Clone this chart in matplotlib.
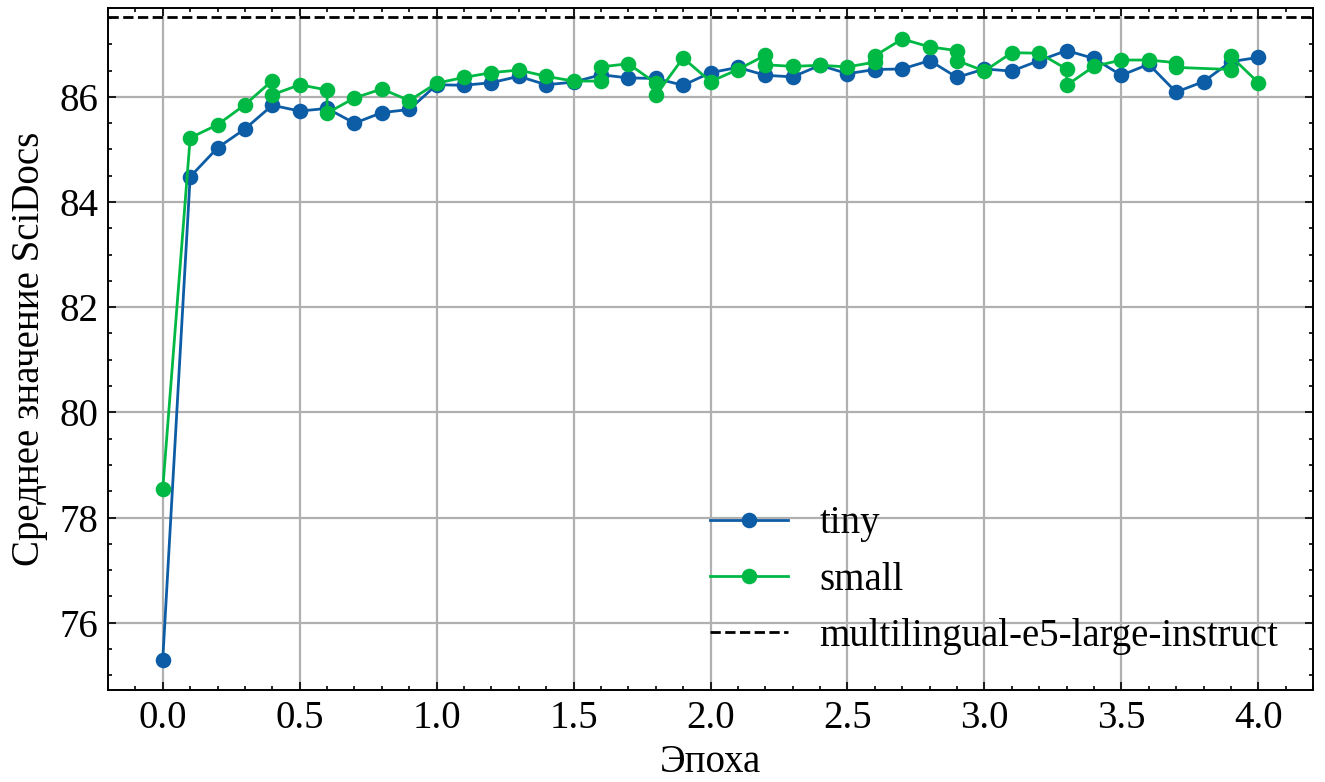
import matplotlib
matplotlib.use("Agg")

import matplotlib.pyplot as plt
from matplotlib.ticker import AutoMinorLocator

# ── Data ────────────────────────────────────────────────────────────
tiny_epoch = [0.0, 0.1, 0.2, 0.3, 0.4, 0.5, 0.6, 0.7, 0.8, 0.9,
              1.0, 1.1, 1.2, 1.3, 1.4, 1.5, 1.6, 1.7, 1.8, 1.9,
              2.0, 2.1, 2.2, 2.3, 2.4, 2.5, 2.6, 2.7, 2.8, 2.9,
              3.0, 3.1, 3.2, 3.3, 3.4, 3.5, 3.6, 3.7, 3.8, 3.9, 4.0]
tiny_score = [75.30, 84.48, 85.03, 85.39, 85.84, 85.73, 85.78, 85.50, 85.70, 85.76,
              86.23, 86.22, 86.27, 86.39, 86.23, 86.28, 86.42, 86.36, 86.35, 86.22,
              86.46, 86.56, 86.41, 86.38, 86.60, 86.44, 86.52, 86.53, 86.69, 86.37,
              86.53, 86.49, 86.69, 86.88, 86.73, 86.41, 86.62, 86.09, 86.29, 86.67, 86.75]

# some epochs were logged twice for "small"
small_epoch = [0.0, 0.1, 0.2, 0.3, 0.4, 0.4, 0.5, 0.6, 0.6, 0.7, 0.8, 0.9,
               1.0, 1.1, 1.2, 1.3, 1.4, 1.5, 1.6, 1.6, 1.7, 1.8, 1.8, 1.9,
               2.0, 2.1, 2.2, 2.2, 2.3, 2.4, 2.5, 2.6, 2.6, 2.7, 2.8, 2.9, 2.9,
               3.0, 3.1, 3.2, 3.3, 3.3, 3.4, 3.5, 3.6, 3.7, 3.7, 3.9, 3.9, 4.0]
small_score = [78.55, 85.22, 85.47, 85.85, 86.31, 86.04, 86.23, 86.13, 85.69, 85.98, 86.15, 85.93,
               86.26, 86.37, 86.46, 86.51, 86.39, 86.30, 86.30, 86.57, 86.63, 86.26, 86.03, 86.74,
               86.29, 86.52, 86.79, 86.61, 86.58, 86.60, 86.57, 86.66, 86.78, 87.10, 86.95, 86.88, 86.69,
               86.49, 86.84, 86.83, 86.53, 86.22, 86.58, 86.70, 86.70, 86.65, 86.56, 86.52, 86.77, 86.27]

baseline = 87.52
baseline_name = "multilingual-e5-large-instruct"

# ── Style (SciencePlots-like) ───────────────────────────────────────
plt.rcParams.update({
    "font.family": ["Liberation Serif", "DejaVu Serif"],
    "font.size": 14,
    "mathtext.fontset": "stix",
    "axes.linewidth": 0.7,
    "xtick.direction": "in",
    "ytick.direction": "in",
    "xtick.top": True,
    "ytick.right": True,
    "xtick.major.size": 3,
    "ytick.major.size": 3,
    "xtick.minor.size": 1.5,
    "ytick.minor.size": 1.5,
    "xtick.major.width": 0.6,
    "ytick.major.width": 0.6,
    "xtick.minor.width": 0.6,
    "ytick.minor.width": 0.6,
    "xtick.minor.visible": True,
    "ytick.minor.visible": True,
})

fig, ax = plt.subplots(figsize=(6.625, 3.91), dpi=200)
fig.subplots_adjust(left=0.0815, right=0.991, bottom=0.1176, top=0.9898)

ax.plot(tiny_epoch, tiny_score, color="#0C5DA5", marker="o", markersize=4.6,
        linewidth=1.0, label="tiny")
ax.plot(small_epoch, small_score, color="#00B945", marker="o", markersize=4.6,
        linewidth=1.0, label="small")
ax.axhline(baseline, color="black", linestyle="--", linewidth=1.0, label=baseline_name)

ax.set_xlim(-0.2, 4.2)
ax.set_ylim(74.72, 87.69)
ax.set_xticks([0.0, 0.5, 1.0, 1.5, 2.0, 2.5, 3.0, 3.5, 4.0])
ax.set_yticks([76, 78, 80, 82, 84, 86])
ax.xaxis.set_minor_locator(AutoMinorLocator(5))
ax.yaxis.set_minor_locator(AutoMinorLocator(4))
ax.grid(True, which="major", color="#b0b0b0", linewidth=0.8)
ax.set_axisbelow(True)

ax.set_xlabel("Эпоха", labelpad=2.5)
ax.set_ylabel("Среднее значение SciDocs")
ax.legend(loc="lower right", frameon=False)

fig.savefig("out.png", dpi=200)
